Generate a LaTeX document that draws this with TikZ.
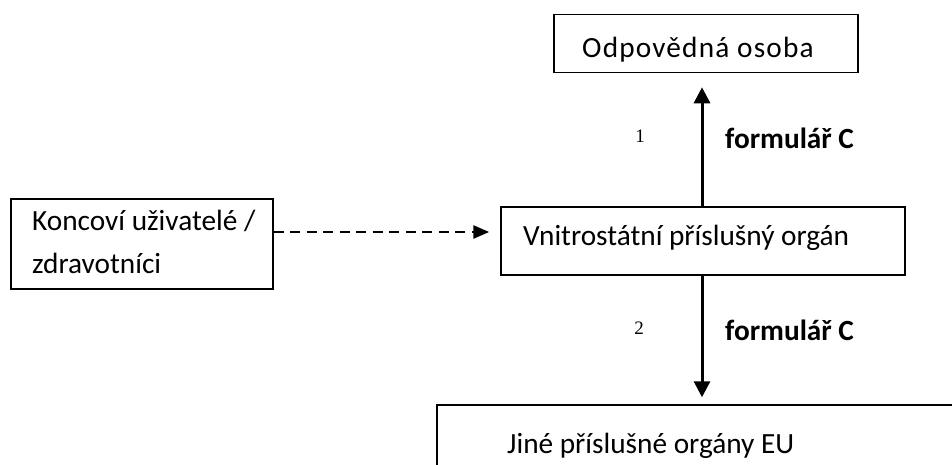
\documentclass[tikz,border=0pt]{standalone}
\usepackage{fontspec}
\setmainfont{Carlito}
\newfontfamily\numfont{Liberation Serif}
\usetikzlibrary{arrows.meta}
\begin{document}
\begin{tikzpicture}[x=1pt,y=-1pt,
 box/.style={draw, line width=1.5pt, rectangle, inner sep=0pt},
 txt/.style={font=\fontsize{29.3}{34}\selectfont, anchor=base west, inner sep=0pt},
 conn/.style={line width=3pt, -{Triangle[width=16pt,length=16pt]}},
 dconn/.style={line width=2.7pt, dash pattern=on 10pt off 6.5pt, -{Triangle[width=13pt,length=16pt]}},
 lab/.style={font=\fontsize{29.3}{34}\selectfont\bfseries, anchor=base west, inner sep=0pt},
 num/.style={font=\numfont\fontsize{19}{22}\selectfont, anchor=base, inner sep=0pt}]
\clip (0,0) rectangle (952,464);
% boxes
\node[box, minimum width=304pt, minimum height=58pt] (odp) at (706,43.5) {};
\node[box, minimum width=262pt, minimum height=90pt] (kon) at (142,244) {};
\node[box, minimum width=404pt, minimum height=68pt] (mid) at (703,241) {};
\node[box, minimum width=560pt, minimum height=90pt] (eu) at (717,450) {};
% texts
\node[txt, font=\fontsize{29.3}{34}\selectfont\addfontfeature{LetterSpace=4}] (todp) at (582,57) {Odpovědná osoba};
\node[txt] (tkon1) at (32,230) {Koncoví uživatelé /};
\node[txt] (tkon2) at (32,273) {zdravotníci};
\node[txt] (tmid) at (523,245) {Vnitrostátní příslušný orgán};
\node[txt] (teu) at (507,453) {Jiné příslušné orgány EU};
% labels
\node[num] (n1) at (640,142) {1};
\node[lab] (f1) at (725,148) {formulář C};
\node[num] (n2) at (639,334) {2};
\node[lab] (f2) at (725,340) {formulář C};
% connectors
\coordinate (ax) at (702,0);
\coordinate (ay) at (0,232);
\draw[conn, shorten >=14pt] (mid.north -| ax) -- (odp.south -| ax);
\draw[conn, shorten >=7pt] (mid.south -| ax) -- (eu.north -| ax);
\draw[dconn, shorten >=11pt] (kon.east |- ay) -- (mid.west |- ay);
\end{tikzpicture}
\end{document}
